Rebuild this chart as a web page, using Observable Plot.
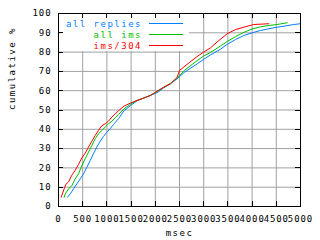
<!DOCTYPE html>
<html><head><meta charset="utf-8">
<script src="https://cdn.jsdelivr.net/npm/d3@7"></script>
<script src="https://cdn.jsdelivr.net/npm/@observablehq/plot@0.6"></script>
<style>
html,body{margin:0;padding:0;background:#fff;}
#chart svg{font-family:"DejaVu Sans Mono",monospace;font-size:9px;}
#chart g[aria-label$="tick label"] text{letter-spacing:0.9px;}
#chart g[aria-label="text"] text{letter-spacing:1.5px;}
</style></head><body><div id="chart"></div>
<script>
const seriesNames = ["all replies", "all ims", "ims/304"];
const seriesColors = ["#0080ff", "#00c000", "#ff0000"];

const allRepliesMs  = [186,241,310,379,448,517,585,654,723,792,861,930,999,1067,1136,1240,1350,1488,1625,1763,1901,2039,2176,2314,2452,2600,2865,3000,3140,3347,3485,3657,3829,4000,4174,4350,4518,4700,4862,5000];
const allRepliesPct = [4.8,6.5,9.1,11.7,14.3,16.9,20.3,23.8,27.3,30.8,33.8,36.3,38.5,40.3,42.5,45.5,49.5,52.3,54.8,56.2,57.6,59,61.5,63.6,66.2,69.5,73.9,76.3,78.5,81.5,84,86.5,88.6,90,91.2,92.1,92.9,93.6,94.3,94.7];

const allImsMs  = [117,138,207,275,344,413,482,551,620,689,758,826,895,964,1033,1102,1171,1240,1350,1488,1625,1763,1901,2039,2176,2314,2452,2600,2865,3000,3140,3347,3485,3657,3829,4000,4174,4350,4518,4725];
const allImsPct = [4.8,6.5,9.1,10.8,14.3,16.9,21.2,24.7,28.2,31.6,35.1,37.7,39.4,41.1,42.8,44.2,45.9,47.7,50.5,53,55,56.2,57.6,59.5,61.8,63.8,66.5,70.5,75.6,78,79.8,83.2,85.5,88,90.2,92,93.1,93.8,94.3,95.2];

const ims304Ms  = [55,124,152,207,275,344,413,482,551,620,689,758,826,895,964,1033,1102,1171,1240,1350,1488,1625,1763,1901,2039,2176,2314,2452,2500,2700,2865,3000,3140,3313,3485,3657,3829,4036,4200,4345];
const ims304Pct = [4.8,9.7,11.5,12.7,16.2,18.7,21.8,25.2,27.6,30.8,33.8,36.8,39.4,41.9,42.8,44.2,46.3,48,49.6,52,53.6,55,56.2,57.6,59.8,61.9,63.6,67,70.5,74.5,77.7,80,82.2,86,89.5,91.7,92.9,94.3,94.5,94.7];

const xTicks = [0,500,1000,1500,2000,2500,3000,3500,4000,4500,5000];
const yTicks = [0,10,20,30,40,50,60,70,80,90,100];
const xLabel = "msec";
const yLabel = "cumulative %";

const seriesMs = [allRepliesMs, allImsMs, ims304Ms];
const seriesPct = [allRepliesPct, allImsPct, ims304Pct];
const rows = [];
seriesNames.forEach((name, i) => {
  seriesMs[i].forEach((ms, j) => rows.push({series: name, ms, pct: seriesPct[i][j]}));
});

// white legend box (drawn over the grid, under the curves)
const legendBox = (index, scales, values, dims) => {
  const g = d3.create("svg:g");
  g.append("rect")
    .attr("x", dims.marginLeft + 3).attr("y", dims.marginTop + 1)
    .attr("width", 128).attr("height", 37).style("fill", "white").style("stroke", "none");
  seriesNames.forEach((name, i) => {
    const yy = dims.marginTop + 10 + i * 11;
    g.append("text").attr("x", 142).attr("y", yy + 0.5)
      .attr("text-anchor", "end").attr("dominant-baseline", "central")
      .style("fill", seriesColors[i]).style("letter-spacing", "1.5px")
      .text(name);
    g.append("rect").attr("x", 149).attr("y", yy).attr("width", 34).attr("height", 1)
      .style("fill", seriesColors[i]).style("stroke", "none");
  });
  return g.node();
};

// inward ticks on all four sides
const inwardTicks = (index, scales, values, dims) => {
  const g = d3.create("svg:g").style("stroke", "black").style("stroke-width", "1px");
  const bottom = dims.height - dims.marginBottom, top = dims.marginTop;
  const left = dims.marginLeft, right = dims.width - dims.marginRight;
  for (const v of xTicks) {
    const px = Math.round(scales.x(v)) + 0.5;
    g.append("line").attr("x1", px).attr("x2", px).attr("y1", bottom).attr("y2", bottom - 5);
    g.append("line").attr("x1", px).attr("x2", px).attr("y1", top).attr("y2", top + 5);
  }
  for (const v of yTicks) {
    const py = Math.round(scales.y(v)) + 0.5;
    g.append("line").attr("x1", left).attr("x2", left + 5).attr("y1", py).attr("y2", py);
    g.append("line").attr("x1", right).attr("x2", right - 5).attr("y1", py).attr("y2", py);
  }
  return g.node();
};

const chart = Plot.plot({
  width: 320, height: 240,
  marginLeft: 58, marginRight: 20, marginTop: 13, marginBottom: 34,
  style: {background: "white", fontFamily: "DejaVu Sans Mono", fontSize: "9px", color: "black"},
  x: {domain: [0, 5000]},
  y: {domain: [0, 100]},
  color: {domain: seriesNames, range: seriesColors},
  marks: [
    Plot.gridX(xTicks, {stroke: "#a0a0a0", strokeOpacity: 1}),
    Plot.gridY(yTicks, {stroke: "#a0a0a0", strokeOpacity: 1}),
    legendBox,
    Plot.line(rows, {x: "ms", y: "pct", z: "series", stroke: "series", strokeWidth: 1}),
    Plot.frame({stroke: "black"}),
    inwardTicks,
    Plot.axisX(xTicks, {anchor: "bottom", tickSize: 0, tickPadding: 9, label: null, fill: "black", tickFormat: d => String(d)}),
    Plot.axisY(yTicks, {anchor: "left", tickSize: 0, tickPadding: 7, label: null, fill: "black", tickFormat: d => String(d)}),
    Plot.text([xLabel], {frameAnchor: "bottom", dy: 29, fill: "black"}),
    Plot.text([yLabel], {frameAnchor: "left", dx: -46, rotate: -90, fill: "black"})
  ]
});
document.getElementById("chart").appendChild(chart);
</script>
</body></html>
